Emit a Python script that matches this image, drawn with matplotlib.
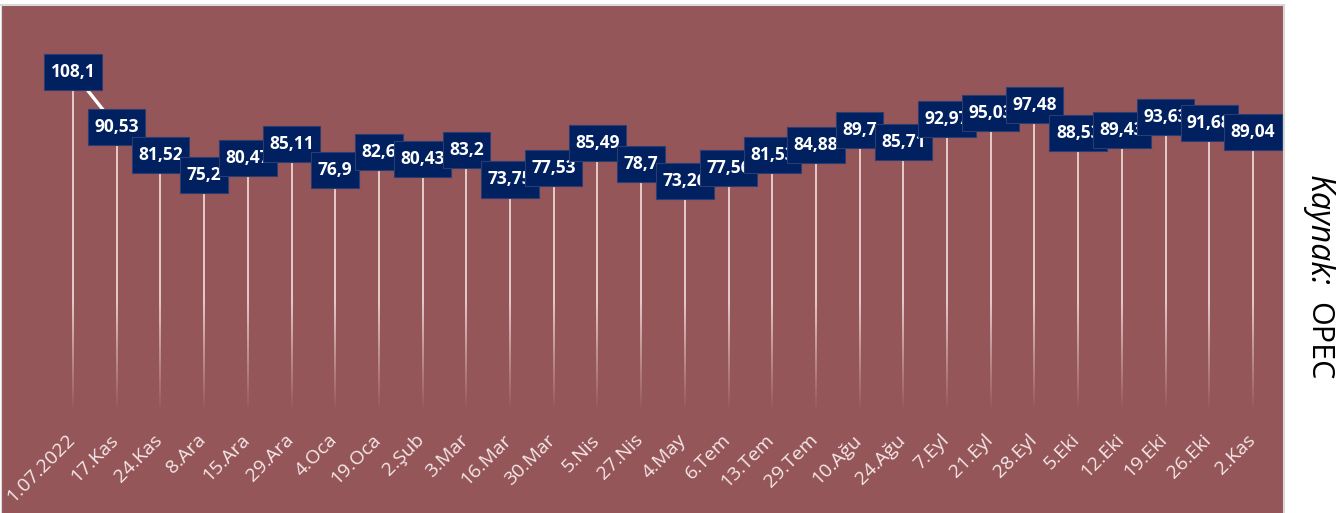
import matplotlib.pyplot as plt
import numpy as np
from matplotlib.collections import LineCollection
from matplotlib.path import Path

# weekly OPEC basket prices ($/barrel)
dates = ["1.07.2022", "17.Kas", "24.Kas", "8.Ara", "15.Ara", "29.Ara", "4.Oca",
         "19.Oca", "2.Şub", "3.Mar", "16.Mar", "30.Mar", "5.Nis", "27.Nis",
         "4.May", "6.Tem", "13.Tem", "29.Tem", "10.Ağu", "24.Ağu", "7.Eyl",
         "21.Eyl", "28.Eyl", "5.Eki", "12.Eki", "19.Eki", "26.Eki", "2.Kas"]
prices = [108.1, 90.53, 81.52, 75.2, 80.47, 85.11, 76.9,
          82.6, 80.43, 83.2, 73.75, 77.53, 85.49, 78.7,
          73.26, 77.56, 81.53, 84.88, 89.7, 85.71, 92.97,
          95.03, 97.48, 88.53, 89.43, 93.63, 91.68, 89.04]
source_label = "Kaynak:"
source_name = "OPEC"

bg = "#955659"
box_color = "#002060"


def label_box(x0, y0, width, height, mutation_size):
    # wider vertical padding than horizontal, like the excel data labels
    px = 0.37 * mutation_size
    py = 0.52 * mutation_size
    x0, y0 = x0 - px, y0 - py
    x1, y1 = x0 + width + 2 * px, y0 + height + 2 * py
    return Path([(x0, y0), (x1, y0), (x1, y1), (x0, y1), (x0, y0)], closed=True)


fig = plt.figure(figsize=(13.36, 5.13), dpi=100)
ax = fig.add_axes([1 / 1336, 0, 1283 / 1336, 508 / 513])
ax.set_facecolor(bg)

x = np.arange(len(prices))

# drop lines fading towards the bottom
for xi, v in zip(x, prices):
    ys = np.linspace(v, 0, 80)
    segs = [[(xi, ys[k]), (xi, ys[k + 1])] for k in range(len(ys) - 1)]
    mid = (ys[:-1] + ys[1:]) / 2
    alphas = np.clip(mid / 35.0, 0, 1) * 0.85
    cols = [(0.96, 0.88, 0.88, a) for a in alphas]
    ax.add_collection(LineCollection(segs, colors=cols, linewidths=1.4, zorder=2))

ax.plot(x, prices, color="white", lw=2.4, zorder=3)

# data labels, each drawn over the previous one
for i, (xi, v) in enumerate(zip(x, prices)):
    ax.text(xi, v, f"{v:g}".replace(".", ","), ha="center", va="center",
            fontsize=12.5, fontweight="bold", color="white",
            family="Open Sans", zorder=10 + i,
            bbox=dict(boxstyle=label_box, fc=box_color, ec="#2b3d70", lw=0.8))

for xi, lab in zip(x, dates):
    ax.text(xi - 0.02, -8.6, lab, rotation=45, rotation_mode="anchor",
            ha="right", va="center", fontsize=14, color="#f5e8e8",
            family="Open Sans")

ax.set_xlim(-1.648, 27.71)
ax.set_ylim(-32.8, 129.5)
ax.set_xticks([])
ax.set_yticks([])
ax.spines["bottom"].set_visible(False)
for s in ["top", "right", "left"]:
    ax.spines[s].set_color("#d9d9d9")
    ax.spines[s].set_linewidth(1.5)
ax.spines["left"].set_linewidth(0.8)

fig.text(1318 / 1336, 1 - 175 / 513, source_label, rotation=270,
         ha="center", va="top", fontsize=23, style="italic",
         family="Open Sans", color="black")
fig.text(1318 / 1336, 1 - 302 / 513, source_name, rotation=270,
         ha="center", va="top", fontsize=22, family="Open Sans", color="black")

fig.savefig("out.png", dpi=100)
